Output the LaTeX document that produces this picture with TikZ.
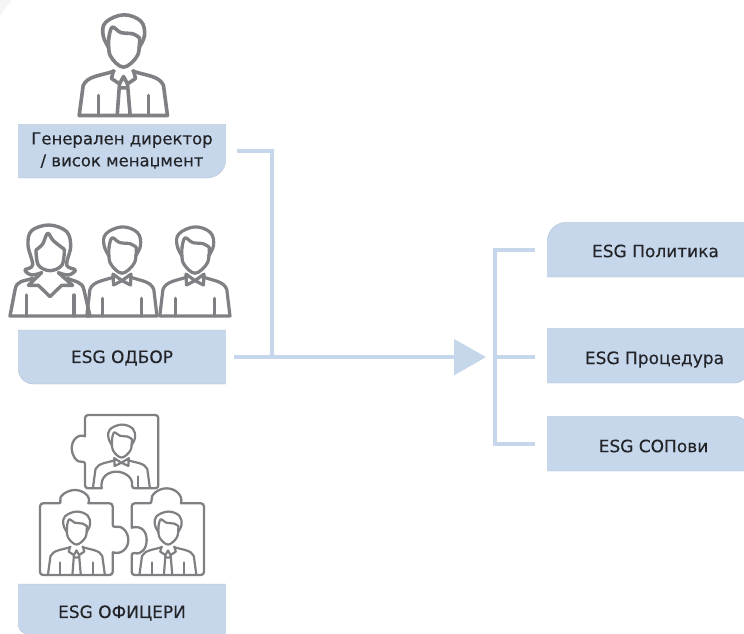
\documentclass[tikz,border=0pt]{standalone}
\usepackage{fontspec}
\setmainfont{DejaVu Sans}[FakeBold=0.3]
\definecolor{boxblue}{HTML}{C6D7EC}
\definecolor{icongrey}{HTML}{7F8083}
\definecolor{boxtext}{HTML}{232428}
\tikzset{
  boxshape/.style={fill=boxblue,draw=boxblue!88!black,line width=.35pt},
  boxnode/.style={minimum width=208pt,minimum height=54pt,inner sep=0pt,outer sep=0pt},
  sidenode/.style={minimum width=197pt,minimum height=55pt,inner sep=0pt,outer sep=0pt},
  label/.style={text=boxtext,font=\fontsize{17}{22}\selectfont,align=center,inner sep=0pt},
  conn/.style={draw=boxblue,line width=4pt},
  icon/.style={draw=icongrey,line join=round,line cap=round},
  piece/.style={draw=icongrey,line width=2.3pt,line join=round,rounded corners=3pt},
}
\newcommand\manhead{
  \draw[icon] plot[smooth,tension=.65] coordinates {(326,142)(309,105)(316,66)(370,43)(422,62)(433,105)(416,142)};
  \draw[icon] plot[smooth,tension=.6] coordinates {(326,112)(330,165)(370,200)(412,165)(418,112)};
  \draw[icon] plot[smooth,tension=.6] coordinates {(326,112)(336,80)(362,96)(398,100)(418,112)};
}
\newcommand\manshoulders{
  \draw[icon] (342,212) .. controls (300,226) and (262,226) .. (249,255) -- (237,345) -- (502,345) -- (490,255) .. controls (478,226) and (440,226) .. (398,212);
  \draw[icon] (295,285) -- (295,345) (445,285) -- (445,345);
}
\newcommand\manopen{
  \draw[icon] (342,212) .. controls (300,226) and (262,226) .. (249,255) -- (237,345) (502,345) -- (490,255) .. controls (478,226) and (440,226) .. (398,212);
  \draw[icon] (295,285) -- (295,345) (445,285) -- (445,345);
}
\newcommand\manbow{
  \draw[icon] (370,225) -- (336,203) -- (338,240) -- cycle (370,225) -- (404,203) -- (402,240) -- cycle;
}
\newcommand\mantie{
  \draw[icon] (340,210) -- (334,234) -- (358,250) -- (370,228) -- (382,250) -- (406,234) -- (400,210);
  \draw[icon] (358,250) -- (351,345) (382,250) -- (390,345) (360,262) -- (380,262);
}
\begin{document}
\begin{tikzpicture}[x=1pt,y=-1pt]
\useasboundingbox (0,0) rectangle (744,634);
\fill[gray!8] (0,0) -- (12,0) -- (0,16) -- cycle;

% boxes
\path[boxshape] (18.3,124.3) -- (225.7,124.3) -- (225.7,160) .. controls (225.7,170) and (217,178) .. (207,178) -- (18.3,178) -- cycle;
\path[boxshape] (18.3,330) -- (225.7,330) -- (225.7,384) -- (33,384) .. controls (25,384) and (18.3,377) .. (18.3,369) -- cycle;
\path[boxshape] (18.3,584) -- (225.7,584) -- (225.7,640) -- (28,640) -- (28,634) .. controls (23,634) and (18.3,630) .. (18.3,625) -- cycle;
\path[boxshape] (745,222.3) -- (745,277) -- (547.3,277) -- (547.3,241) .. controls (547.3,231) and (556,222.3) .. (566,222.3) -- cycle;
\path[boxshape] (547.3,328.3) -- (745,328.3) -- (745,378) .. controls (742,381) and (739,383) .. (735,383) -- (547.3,383) -- cycle;
\path[boxshape] (547.3,416.3) -- (735,416.3) .. controls (739,416.3) and (742,418) .. (745,421) -- (745,471) -- (547.3,471) -- cycle;

\node[boxnode] (gm) at (122,151) {};
\node[boxnode] (board) at (122,357) {};
\node[boxnode] (off) at (122,611) {};
\node[sidenode] (pol) at (645.5,249.5) {};
\node[sidenode] (proc) at (645.5,357) {};
\node[sidenode] (sop) at (645.5,443.5) {};

\node[label,font=\fontsize{16.5}{22}\selectfont] (gmt) at (122,150.5) {Генерален директор\\/ висок менаџмент};
\node[label] (boardt) at (122,358) {ESG ОДБОР};
\node[label] (offt) at (122,613) {ESG ОФИЦЕРИ};
\node[label] (polt) at (655.5,251) {ESG Политика};
\node[label] (proct) at (654.5,359.5) {ESG Процедура};
\node[label] (sopt) at (653.5,446) {ESG СОПови};

% connectors
\coordinate (join) at (272,357);
\coordinate (bus) at (495,357);
\coordinate (bustop) at (495,249.5);
\coordinate (busbot) at (495,443.5);
\coordinate (tipbase) at (456,357);
\fill[boxblue] (454,339) -- (486,357) -- (454,375.5) -- cycle;
\draw[conn,shorten <=11pt] (gm.east) -| (join);
\draw[conn,shorten <=8pt] (board.east) -- (tipbase);
\draw[conn,shorten >=12pt] (bustop) -- (pol.west);
\draw[conn,shorten >=12pt] (bus) -- (proc.west);
\draw[conn,shorten >=12pt] (busbot) -- (sop.west);
\draw[conn,line cap=rect] (bustop) -- (busbot);

% top figure
\begin{scope}[shift={(123.5,115.5)},xscale=.3333,yscale=.3333,shift={(-370,-345)},line width=3.6pt]
\manhead\manshoulders\mantie
\end{scope}

% board: woman
\begin{scope}[shift={(0,210)},xscale=.3333,yscale=.3333,line width=3.4pt]
\draw[icon] plot[smooth,tension=.6] coordinates {(125,188)(95,195)(75,180)(98,165)(84,105)(95,62)(148,45)(200,65)(212,110)(200,165)(226,180)(205,195)(175,188)};
\draw[icon] plot[smooth,tension=.6] coordinates {(108,120)(115,165)(150,182)(186,165)(193,118)};
\draw[icon] plot[smooth,tension=.6] coordinates {(108,120)(128,102)(143,70)(160,92)(193,118)};
\draw[icon] (125,188) -- (85,226) -- (115,226) -- (150,260) -- (185,226) -- (218,226) -- (175,188);
\draw[icon] (98,205) .. controls (70,215) and (50,210) .. (45,240) -- (30,318) -- (270,318) -- (252,240) .. controls (248,215) and (225,215) .. (202,205);
\draw[icon] (80,255) -- (80,318) (222,255) -- (222,318);
\end{scope}
% board: two men
\begin{scope}[shift={(122,316)},xscale=.265,yscale=.295,shift={(-370,-345)},line width=3.2pt]
\manshoulders\manbow
\end{scope}
\begin{scope}[shift={(122,316)},xscale=.295,yscale=.295,shift={(-370,-345)},line width=3.2pt]
\manhead
\end{scope}
\begin{scope}[shift={(195,316)},xscale=.265,yscale=.295,shift={(-370,-345)},line width=3.2pt]
\manshoulders\manbow
\end{scope}
\begin{scope}[shift={(195,316)},xscale=.295,yscale=.295,shift={(-370,-345)},line width=3.2pt]
\manhead
\end{scope}

% puzzle pieces
\begin{scope}[shift={(20,405)},xscale=.3333,yscale=.3333]
\draw[piece] (195,30) -- (415,30) -- (415,250) -- (335,250) {[sharp corners] .. controls (340,215) and (310,200) .. (290,200) .. controls (265,200) and (240,215) .. (245,250)} -- (195,250) -- (195,168) {[sharp corners] .. controls (170,175) and (155,150) .. (155,130) .. controls (155,105) and (175,85) .. (195,94)} -- cycle;
\draw[piece] (60,295) -- (125,295) {[sharp corners] .. controls (115,275) and (140,255) .. (165,255) .. controls (190,255) and (215,275) .. (205,295)} -- (278,295) -- (278,368) {[sharp corners] .. controls (305,360) and (325,380) .. (325,405) .. controls (325,430) and (305,450) .. (278,442)} -- (278,510) -- (60,510) -- cycle;
\draw[piece] (335,295) -- (397,295) {[sharp corners] .. controls (390,270) and (415,250) .. (440,250) .. controls (465,250) and (490,270) .. (483,295)} -- (552,295) -- (552,510) -- (335,510) -- (335,442) {[sharp corners] .. controls (365,450) and (380,430) .. (380,405) .. controls (380,380) and (365,360) .. (335,368)} -- cycle;
\end{scope}

\begin{scope}[shift={(121.5,488)},xscale=.215,yscale=.21,shift={(-370,-345)},line width=2.2pt]
\manhead\manbow
\draw[icon] (342,212) .. controls (300,226) and (262,226) .. (249,255) -- (237,345) (502,345) -- (490,255) .. controls (478,226) and (440,226) .. (398,212);
\draw[icon] (445,290) -- (445,345);
\end{scope}
\begin{scope}[shift={(76.5,575)},xscale=.215,yscale=.21,shift={(-370,-345)},line width=2.2pt]
\manhead\manopen\mantie
\end{scope}
\begin{scope}[shift={(168,575)},xscale=.215,yscale=.21,shift={(-370,-345)},line width=2.2pt]
\manhead\manopen\mantie
\end{scope}
\end{tikzpicture}
\end{document}
